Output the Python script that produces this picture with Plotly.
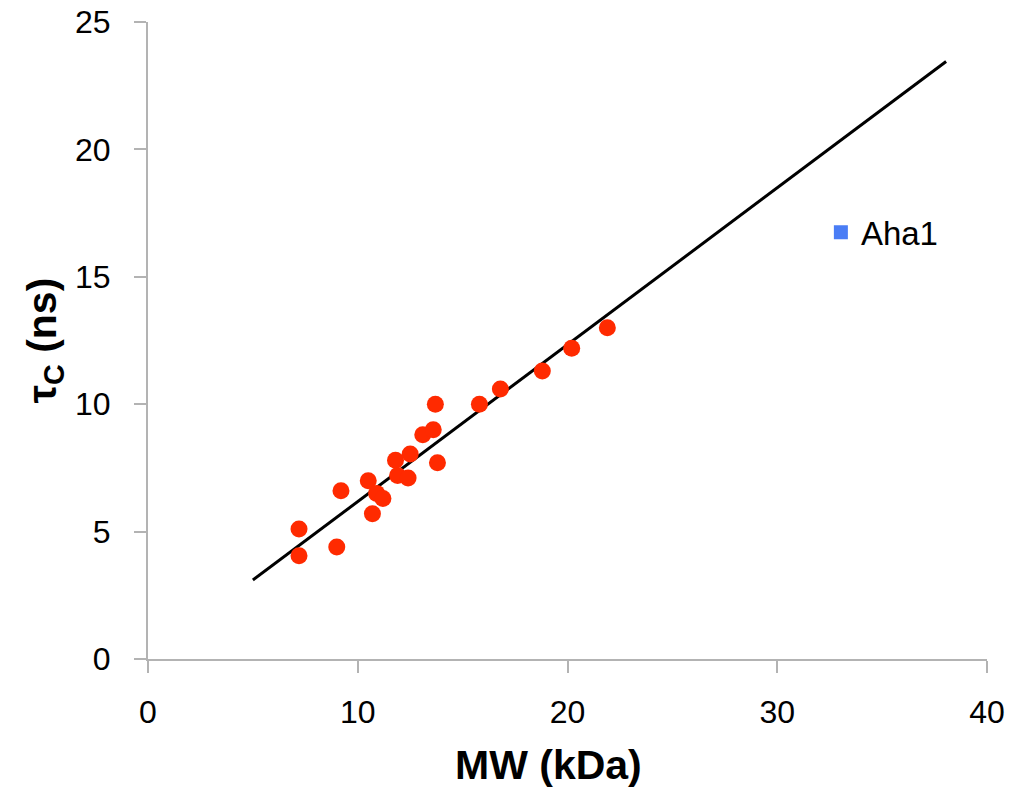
import plotly.graph_objects as go

mw = [7.2, 7.2, 9.0, 9.2, 10.5, 10.7, 10.9, 11.2, 11.8, 11.9, 12.4, 12.5, 13.1, 13.6, 13.7, 13.8, 15.8, 16.8, 18.8, 20.2, 21.9]
tau = [5.1, 4.05, 4.4, 6.6, 7.0, 5.7, 6.5, 6.3, 7.8, 7.2, 7.1, 8.05, 8.8, 9.0, 10.0, 7.7, 10.0, 10.6, 11.3, 12.2, 13.0]
fit_x = [5.0, 38.05]
fit_y = [3.1, 23.45]
aha1_x = [None]
aha1_y = [None]

fig = go.Figure()
fig.add_trace(go.Scatter(x=fit_x, y=fit_y, mode="lines", line=dict(color="black", width=3), showlegend=False, hoverinfo="skip"))
fig.add_trace(go.Scatter(x=mw, y=tau, mode="markers", marker=dict(color="#FF2A00", size=17, line=dict(width=0)), showlegend=False))
fig.add_trace(go.Scatter(x=aha1_x, y=aha1_y, mode="markers", name="Aha1", marker=dict(color="#4A7DF5", symbol="square", size=14)))

fig.update_layout(
    width=1005, height=781,
    margin=dict(l=140, r=26, t=14, b=130),
    plot_bgcolor="white", paper_bgcolor="white",
    font=dict(family="Liberation Sans, Arial, sans-serif", color="black", size=32),
    legend=dict(x=0.802, y=0.67, xanchor="left", yanchor="middle", font=dict(size=33), bgcolor="rgba(0,0,0,0)", itemwidth=30),
    xaxis=dict(range=[0, 40], tickvals=[0, 10, 20, 30, 40], showgrid=False, zeroline=False, automargin=False,
               showline=True, linecolor="#B3B3B3", linewidth=2, ticks="outside", tickcolor="#B3B3B3", ticklen=12, tickwidth=2,
               tickfont=dict(size=32), ticklabelstandoff=12, ticklabeloverflow="allow"),
    yaxis=dict(range=[0, 25], tickvals=[0, 5, 10, 15, 20, 25], showgrid=False, zeroline=False, automargin=False,
               showline=True, linecolor="#B3B3B3", linewidth=2, ticks="outside", tickcolor="#B3B3B3", ticklen=12, tickwidth=2,
               tickfont=dict(size=32), ticklabelstandoff=17, ticklabeloverflow="allow",
               title=dict(text="<b>τ<sub>C</sub> (ns)</b>", font=dict(size=41), standoff=6)),
    annotations=[dict(text="<b>MW (kDa)</b>", xref="paper", yref="paper", x=0.477, y=-0.1664,
                      xanchor="center", yanchor="middle", showarrow=False, font=dict(size=41))],
)

fig.write_html("out.html")
